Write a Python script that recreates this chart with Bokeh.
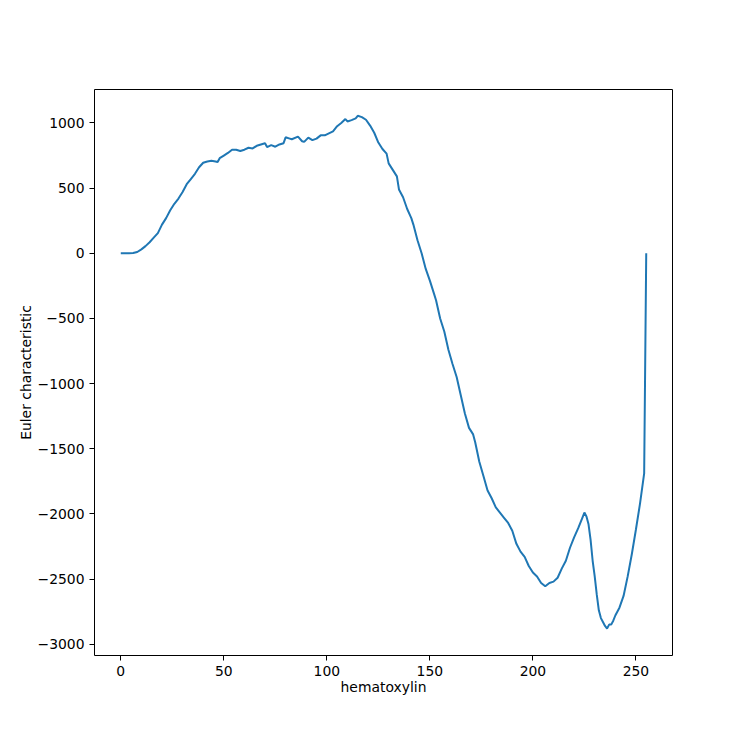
from bokeh.plotting import figure
from bokeh.models import Range1d, FixedTicker
from bokeh.embed import file_html
from bokeh.resources import INLINE

# Data
hematoxylin = [0, 2, 4, 6, 8, 10, 12, 14, 16, 18, 20, 22, 24, 26, 28, 30, 32, 34, 36, 38,
               40, 42, 44, 46, 47, 48, 50, 52, 54, 56, 58, 60, 62, 64, 66, 68, 70, 71, 73, 75,
               77, 79, 80, 82, 83, 86, 88, 89, 91, 93, 95, 97, 99, 101, 103, 105, 107, 109, 110, 112,
               114, 115, 117, 119, 121, 123, 125, 127, 129, 130, 132, 134, 135, 137, 139, 141, 142, 144, 146, 148,
               150, 152, 153, 155, 157, 159, 161, 163, 165, 167, 169, 171, 172, 174, 176, 178, 180, 182, 184, 186,
               188, 190, 192, 194, 196, 198, 200, 202, 204, 206, 208, 210, 212, 214, 216, 218, 220, 222, 224, 225,
               226, 227, 228, 229, 230, 231, 232, 233, 234, 235, 236, 237, 238, 239, 240, 242, 244, 246, 248, 250,
               252, 254, 255]
euler = [0, 0, 0, 2, 10, 30, 55, 85, 120, 155, 220, 270, 330, 380, 420, 470, 530, 570, 610, 660,
         695, 705, 710, 705, 700, 730, 750, 770, 795, 795, 785, 795, 810, 805, 825, 835, 845, 815, 830, 818,
         835, 845, 890, 880, 875, 895, 860, 855, 888, 868, 880, 905, 905, 920, 935, 975, 1000, 1030, 1012, 1022,
         1035, 1055, 1045, 1025, 980, 925, 850, 800, 765, 690, 640, 590, 490, 430, 340, 270, 220, 100, 0, -120,
         -210, -310, -360, -500, -600, -740, -850, -950, -1090, -1230, -1340, -1390, -1450, -1600, -1710, -1820, -1880, -1950, -1990, -2030,
         -2070, -2130, -2230, -2290, -2330, -2400, -2450, -2480, -2530, -2555, -2530, -2520, -2490, -2420, -2360, -2260, -2180, -2110, -2030, -1990,
         -2020, -2080, -2200, -2360, -2480, -2620, -2740, -2800, -2830, -2860, -2880, -2850, -2850, -2820, -2780, -2720, -2630, -2480, -2310, -2120,
         -1920, -1690, 0]

x_ticks = [0, 50, 100, 150, 200, 250]
y_ticks = [-3000, -2500, -2000, -1500, -1000, -500, 0, 500, 1000]

FONT = "DejaVu Sans"

p = figure(width=740, height=740, output_backend="svg", toolbar_location=None,
           x_range=Range1d(-12.75, 267.75), y_range=Range1d(-3087, 1257),
           min_border_left=94, min_border_top=89, min_border_right=68, min_border_bottom=85)

p.line(hematoxylin, euler, line_color="#1f77b4", line_width=2)

p.xgrid.visible = False
p.ygrid.visible = False
p.outline_line_color = "black"
p.outline_line_width = 1
p.background_fill_color = "white"
p.border_fill_color = "white"

p.xaxis.ticker = FixedTicker(ticks=x_ticks)
p.yaxis.ticker = FixedTicker(ticks=y_ticks)
p.yaxis.major_label_overrides = {t: (str(t).replace("-", "\u2212")) for t in y_ticks}
p.xaxis.axis_label = "hematoxylin"
p.yaxis.axis_label = "Euler characteristic"

for ax in (p.xaxis[0], p.yaxis[0]):
    ax.axis_line_color = None
    ax.major_tick_line_color = "black"
    ax.major_tick_in = 0
    ax.major_tick_out = 5
    ax.minor_tick_line_color = None
    ax.major_label_text_font = FONT
    ax.major_label_text_font_size = "13.9px"
    ax.major_label_text_color = "black"
    ax.major_label_standoff = 5
    ax.axis_label_text_font = FONT
    ax.axis_label_text_font_size = "13.9px"
    ax.axis_label_text_font_style = "normal"
    ax.axis_label_text_color = "black"

p.xaxis[0].axis_label_standoff = 0
p.yaxis[0].axis_label_standoff = 1

open("out.html", "w").write(file_html(p, INLINE))
